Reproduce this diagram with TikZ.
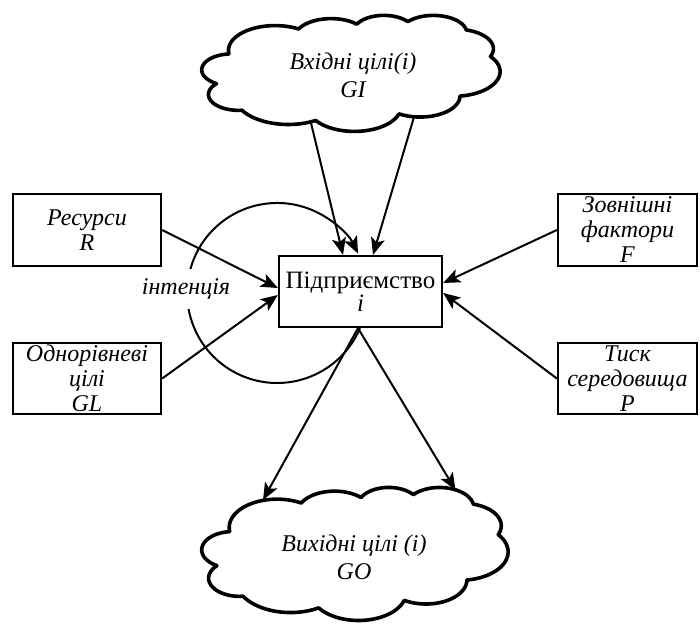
\documentclass[tikz,border=0pt]{standalone}
\usepackage{fontspec}
\setmainfont{Liberation Serif}
\usetikzlibrary{arrows.meta}
\tikzset{
  lbl/.style={font=\fontsize{24}{25}\selectfont\itshape, align=center, inner sep=0pt},
  box/.style={draw, line width=2.3pt, align=center, inner sep=0pt,
    font=\fontsize{24}{25}\selectfont\itshape},
  cloudtext/.style={font=\fontsize{24}{28}\selectfont\itshape, align=center, inner sep=0pt},
  cloudline/.style={line width=3.6pt, line join=round},
  arr/.style={line width=2pt, -{Stealth[length=17pt,width=14pt,inset=4pt]}},
}
\newcommand{\cloudshape}[4]{%
  \begin{scope}[shift={(#1,#2)}, xscale=#3/43.2, yscale=#4/43.2]
  \draw[cloudline] plot[domain=172.25:300.37] ({10.591+6.753*cos(\x)},{13.130+9.190*sin(\x)})
   -- plot[domain=-152.02:-45.46] ({18.715+5.333*cos(\x)},{8.610+7.267*sin(\x)})
   -- plot[domain=-153.5:-37.33] ({26.362+4.365*cos(\x)},{6.084+5.945*sin(\x)})
   -- plot[domain=-139.7:-10.21] ({33.537+4.857*cos(\x)},{6.745+6.595*sin(\x)})
   -- plot[domain=-74.77:23.22] ({36.916+5.333*cos(\x)},{12.594+7.273*sin(\x)})
   -- plot[domain=-37.52:81.87] ({36.443+6.775*cos(\x)},{21.077+9.220*sin(\x)})
   -- plot[domain=0.46:121.97] ({31.616+5.785*cos(\x)},{30.141+7.867*sin(\x)})
   -- plot[domain=16.85:146.23] ({22.091+6.752*cos(\x)},{34.145+9.215*sin(\x)})
   -- plot[domain=58.98:150.2] ({12.499+7.720*cos(\x)},{30.234+10.543*sin(\x)})
   -- plot[domain=83.31:223.1] ({5.292+4.360*cos(\x)},{29.596+5.918*sin(\x)})
   -- plot[domain=120.35:264.11] ({4.304+4.345*cos(\x)},{20.422+5.945*sin(\x)})
   -- cycle;
  \end{scope}}
\begin{document}
\begin{tikzpicture}[x=1pt, y=-1pt]
\useasboundingbox (0,0) rectangle (700,623);
% clouds
\cloudshape{202}{15}{298}{116}
\cloudshape{202}{487}{306}{133}
\node[cloudtext] (gi) at (353,75) {Вхідні цілі(і)\\GI};
\node[cloudtext] (go) at (354,557) {Вихідні цілі (і)\\GO};
\coordinate (gi1) at (310.5,121);
\coordinate (gi2) at (414,117);
\coordinate (go1) at (263,500);
\coordinate (go2) at (455.5,490);
% boxes
\node[box, minimum width=148pt, minimum height=72pt] (res) at (87,230) {Ресурси\\R};
\node[box, minimum width=148pt, minimum height=71pt] (odn) at (87,378.5) {Однорівневі\\цілі\\GL};
\node[box, minimum width=139pt, minimum height=72pt] (zov) at (627.5,230) {Зовнішні\\фактори\\F};
\node[box, minimum width=139pt, minimum height=71pt] (tys) at (627.5,378.5) {Тиск\\середовища\\P};
\node[draw, line width=2.3pt, align=center, inner sep=0pt, minimum width=163pt, minimum height=71pt,
  font=\fontsize{25}{23}\selectfont] (firm) at (360.5,291.5) {Підприємство\\\textit{i}};
% connectors
\draw[arr] (res.east) -- ([yshift=3.5pt]firm.west);
\draw[arr] (odn.east) -- ([yshift=-3.5pt]firm.west);
\draw[arr] (zov.west) -- ([yshift=8.5pt]firm.east);
\draw[arr] (tys.west) -- ([yshift=-1.5pt]firm.east);
\draw[arr] (gi1) -- ([xshift=-17.5pt]firm.north);
\draw[arr] (gi2) -- ([xshift=12.5pt]firm.north);
\draw[arr] ([xshift=-2.5pt]firm.south) -- (go1);
\draw[arr] ([xshift=-2.5pt]firm.south) -- (go2);
\draw[arr] ([xshift=-0.5pt]firm.south) arc[start angle=23, end angle=334, radius=90];
\node[lbl, fill=white, inner xsep=1pt, inner ysep=10pt] (int) at (186,289) {інтенція};
\end{tikzpicture}
\end{document}
